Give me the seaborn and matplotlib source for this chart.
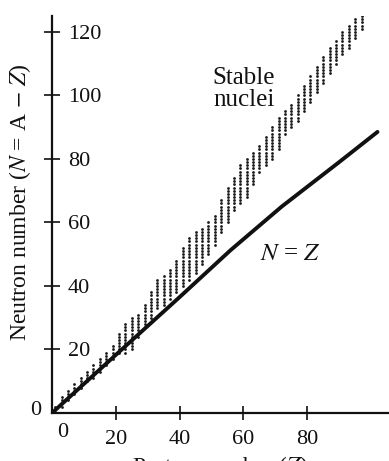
import numpy as np
import pandas as pd
import matplotlib
matplotlib.use('Agg')
import matplotlib.pyplot as plt
import seaborn as sns

# N = Z reference line, as it appears on the (slightly warped) scan
line_z = [0, 20, 40, 56, 72, 90, 102]
line_n = [0, 18.3, 36.5, 51.3, 65, 79, 88.5]

# stable nuclei band: for each Z column, lowest and highest N
band_z = [1, 3, 5, 7, 9, 11, 13, 15, 17, 19, 21, 23, 25, 27, 29, 31, 33, 35, 37,
          39, 41, 43, 45, 47, 49, 51, 53, 55, 57, 59, 61, 63, 65, 67, 69, 71, 73,
          75, 77, 79, 81, 83, 85, 87, 89, 91, 93, 95, 97]
band_lo = [0, 2, 4, 6, 8, 10, 11, 13, 15, 17, 19, 19, 20, 24, 27, 30, 33, 34, 36,
           38, 40, 42, 44, 47, 50, 53, 57, 60, 64, 66, 68, 72, 76, 78, 80, 83, 88,
           90, 92, 95, 98, 101, 104, 107, 110, 113, 115, 118, 121]
band_hi = [2, 5, 7, 9, 11, 13, 15, 17, 19, 21, 25, 28, 30, 31, 34, 38, 42, 43, 45,
           48, 52, 55, 57, 58, 60, 62, 67, 71, 74, 78, 80, 82, 84, 87, 90, 93, 95,
           97, 100, 103, 106, 109, 112, 115, 117, 120, 122, 124, 125]

x_ticks = [20, 40, 60, 80]
y_ticks = [20, 40, 60, 80, 100, 120]

rows = []
for z, lo, hi in zip(band_z, band_lo, band_hi):
    for n in range(lo, hi + 1):
        rows.append((z, n))
nuclei = pd.DataFrame(rows, columns=['Z', 'N'])
diag = pd.DataFrame({'Z': line_z, 'N': line_n})

sns.set_style('white')
plt.rcParams['font.family'] = ['Liberation Serif', 'DejaVu Serif']
plt.rcParams['mathtext.fontset'] = 'stix'

fig = plt.figure(figsize=(3.89, 4.61), dpi=100)
ax = fig.add_axes([52 / 389, 48 / 461, 351 / 389, 397 / 461])

sns.scatterplot(data=nuclei, x='Z', y='N', ax=ax, s=4, color='#1a1a1a',
                linewidth=0, legend=False)
sns.lineplot(data=diag, x='Z', y='N', ax=ax, color='#111111', lw=2.8,
             solid_capstyle='round')

ax.set_xlim(0, 110)
ax.set_ylim(0, 125)
for s in ['top', 'right']:
    ax.spines[s].set_visible(False)
for s in ['left', 'bottom']:
    ax.spines[s].set_linewidth(1.6)
    ax.spines[s].set_color('#111111')

ax.set_xticks(x_ticks)
ax.set_yticks(y_ticks)
ax.set_xticklabels([str(v) for v in x_ticks])
ax.set_yticklabels([str(v) for v in y_ticks], ha='left')
ax.tick_params(axis='x', bottom=True, direction='inout', length=10, width=1.2,
               colors='#111111', labelsize=16, pad=7)
ax.tick_params(axis='y', left=True, direction='inout', length=12, width=1.2,
               colors='#111111', labelsize=16, pad=-17.5)
ax.text(-3.5, 0.8, '0', ha='right', va='center', fontsize=16, color='#111111')
ax.text(3.2, -3.3, '0', ha='center', va='top', fontsize=16, color='#111111')

ax.set_xlabel('Proton number ($Z$)', fontsize=17, color='#111111')
ax.xaxis.set_label_coords(0.479, -0.104)
ax.set_ylabel('Neutron number ($N$ = A $-$ $Z$)', fontsize=17, color='#111111')
ax.yaxis.set_label_coords(-0.055, 0.531)

ax.text(60.2, 102, 'Stable\nnuclei', ha='center', va='center', fontsize=18,
        linespacing=0.95, color='#111111')
ax.text(74.6, 50, '$N$ = $Z$', ha='center', va='center', fontsize=18,
        color='#111111')

fig.savefig('out.png', dpi=100)
